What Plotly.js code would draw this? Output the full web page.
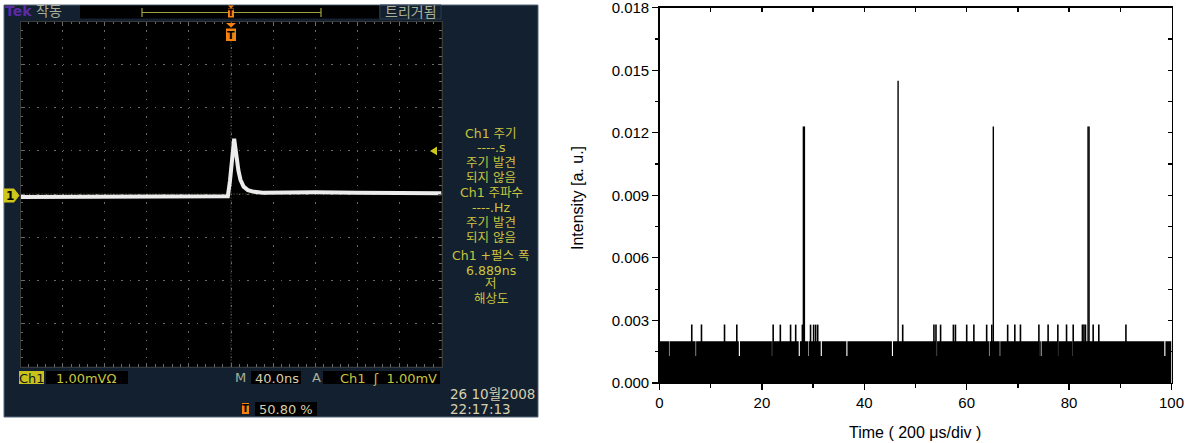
<!DOCTYPE html>
<html><head><meta charset="utf-8">
<script src="https://cdn.plot.ly/plotly-3.0.1.min.js"></script>
<style>html,body{margin:0;padding:0;background:#fff}#chart{width:1186px;height:443px}</style>
</head><body><div id="chart"></div>
<script>
// ---------- Right chart data (Time in divisions of 200 µs, Intensity a.u.) ----------
const xTickVals = [0, 20, 40, 60, 80, 100];
const yTickVals = [0, 0.003, 0.006, 0.009, 0.012, 0.015, 0.018];
const bandLevel = 0.002;            // dense background counts
const bandStart = 0, bandEnd = 100;
const dipClearX = [15.6, 27.3, 31.6, 36.6, 45.5, 54.1, 77.8, 98.7];
const dipFaintX = [1.9, 7.1, 22.0, 29.1, 64.4, 66.5, 74.3, 74.6, 80.7];
const dipLevel = 0.0013;
const medSpikeX = [6.3, 8.2, 12.7, 15.1, 22.2, 23.6, 25.6, 26.6, 27.9, 29.5, 30.1, 30.5, 30.9,
  47.5, 53.6, 54.0, 54.9, 57.4, 57.8, 60.0, 61.4, 63.9, 64.9, 68.0, 69.4, 70.5, 74.1, 75.9,
  77.8, 79.5, 80.8, 82.6, 82.9, 83.2, 84.7, 85.8, 91.1];
const medSpikeY = [0.0028, 0.0028, 0.0028, 0.0028, 0.0028, 0.0028, 0.0028, 0.0028, 0.0028, 0.0028, 0.0028, 0.0028, 0.0028,
  0.0028, 0.0028, 0.0028, 0.0028, 0.0028, 0.0028, 0.0028, 0.0028, 0.0028, 0.0028, 0.0028, 0.0028, 0.0028, 0.0028, 0.0028,
  0.0028, 0.0028, 0.0028, 0.0028, 0.0028, 0.0028, 0.0028, 0.0028, 0.0028];
const bigSpikeX = [28.1, 28.3, 46.6, 65.2, 83.7, 83.9];
const bigSpikeY = [0.0123, 0.0123, 0.0145, 0.0123, 0.0123, 0.0123];

// ---------- Oscilloscope trace (time ns, mV) ----------
const scopeT = [-200, -160, -120, -80, -40, -10, -3, -1, 0.5, 2, 3, 4, 5.5, 7, 9, 12, 16, 22, 30, 50, 80, 120, 160, 200];
const scopeV = [-0.07, -0.07, -0.06, -0.07, -0.07, -0.07, -0.05, 0.3, 0.75, 1.15, 1.28, 1.1, 0.8, 0.55, 0.33, 0.17, 0.09, 0.05, 0.03, 0.04, 0.04, 0.03, 0.02, 0.02];
const triggerLevel = 1.0;

// ---------- build traces ----------
const allDips = dipClearX.map(x => [x, 0.22]).concat(dipFaintX.map(x => [x, 0.1])).sort((a, b) => a[0] - b[0]);
const bandX = [bandStart], bandY = [bandLevel];
allDips.forEach(([x, w]) => {
  bandX.push(x - w / 2, x - w / 2, x + w / 2, x + w / 2);
  bandY.push(bandLevel, dipLevel, dipLevel, bandLevel);
});
bandX.push(bandEnd); bandY.push(bandLevel);

function stems(xs, ys) {
  const sx = [], sy = [];
  xs.forEach((x, i) => { sx.push(x, x, null); sy.push(0, ys[i], null); });
  return { sx, sy };
}
const med = stems(medSpikeX, medSpikeY);
const big = stems(bigSpikeX, bigSpikeY);

const traces = [
  { x: bandX, y: bandY, type: 'scatter', mode: 'lines', fill: 'tozeroy', fillcolor: '#000',
    line: { width: 0, color: '#000' }, xaxis: 'x', yaxis: 'y', hoverinfo: 'skip' },
  { x: med.sx, y: med.sy, type: 'scatter', mode: 'lines', line: { width: 1.6, color: '#000' },
    xaxis: 'x3', yaxis: 'y', hoverinfo: 'skip' },
  { x: big.sx, y: big.sy, type: 'scatter', mode: 'lines', line: { width: 1.4, color: '#000' },
    xaxis: 'x', yaxis: 'y3', hoverinfo: 'skip' },
  { x: scopeT, y: scopeV, type: 'scatter', mode: 'lines', line: { width: 4, color: '#ececec' },
    xaxis: 'x2', yaxis: 'y2', hoverinfo: 'skip' }
];

// ---------- layout helpers ----------
const W = 1186, H = 443;
const X = p => p / W, Y = p => 1 - p / H;
const scopeFont = 'DejaVu Sans, Noto Sans CJK KR, sans-serif';
const yellowTxt = '#c9c43e', beige = '#d6cfae', greyTxt = '#a9b096', orange = '#f5820f';

const annotations = [];
function txt(text, x, y, color, size, xanchor, extra) {
  annotations.push(Object.assign({ text, x: X(x), y: Y(y), xref: 'paper', yref: 'paper', showarrow: false,
    xanchor: xanchor || 'center', yanchor: 'middle', borderpad: 0,
    font: { family: scopeFont, size: size || 13, color } }, extra || {}));
}
const shapes = [];
function rect(x0, y0, x1, y1, fill, lineColor, layer) {
  shapes.push({ type: 'rect', xref: 'paper', yref: 'paper', x0: X(x0), x1: X(x1), y0: Y(y1), y1: Y(y0),
    fillcolor: fill, line: { width: lineColor ? 1 : 0, color: lineColor || fill }, layer: layer || 'above' });
}
function path(pts, fill, layer) {
  const d = pts.map((p, i) => (i ? 'L' : 'M') + X(p[0]) + ',' + Y(p[1])).join(' ') + ' Z';
  shapes.push({ type: 'path', xref: 'paper', yref: 'paper', path: d, fillcolor: fill, line: { width: 0 }, layer: layer || 'above' });
}
function seg(x0, y0, x1, y1, color, width, dash) {
  shapes.push({ type: 'line', xref: 'paper', yref: 'paper', x0: X(x0), x1: X(x1), y0: Y(y0), y1: Y(y1),
    line: { color, width: width || 1, dash: dash || 'solid' }, layer: 'above' });
}

// oscilloscope frame
rect(4, 5, 538, 417, '#13202f', '#566679', 'below');
rect(20.5, 21.5, 441.5, 366.5, '#000', null, 'below');
// top bar
rect(80, 5.5, 379, 18.5, '#000');
seg(142, 12.5, 321, 12.5, '#a3a23c', 1.2);
seg(142, 8, 142, 17, '#a3a23c', 1.2);
seg(321, 8, 321, 17, '#a3a23c', 1.2);
rect(380, 5, 441, 19, 'rgba(0,0,0,0)', '#2c3c4e');
path([[228, 5.5], [234, 5.5], [231, 8.5]], orange);
rect(228, 8.5, 234, 17.5, orange);
// trigger position marker
path([[226, 23], [236, 23], [231, 27.5]], orange);
rect(226, 28.5, 236, 41, orange);
// crosshair
shapes.push({ type: 'line', xref: 'x2', yref: 'y2 domain', x0: 0, x1: 0, y0: 0, y1: 1,
  line: { color: '#6d6d55', width: 1, dash: '1px,2px' }, layer: 'below' });
shapes.push({ type: 'line', xref: 'x2 domain', yref: 'y2', x0: 0, x1: 1, y0: 0, y1: 0,
  line: { color: '#6d6d55', width: 1, dash: '1px,2px' }, layer: 'below' });
// channel 1 marker
path([[4, 188.5], [14, 188.5], [19.5, 195.5], [14, 202.5], [4, 202.5]], '#cfc619');
// trigger level arrow (axis coords)
shapes.push({ type: 'path', xref: 'paper', yref: 'y2',
  path: 'M' + X(430) + ',' + triggerLevel + ' L' + X(437) + ',' + (triggerLevel + 0.1) + ' L' + X(437) + ',' + (triggerLevel - 0.1) + ' Z',
  fillcolor: '#cfc619', line: { width: 0 } });
// bottom readout boxes
rect(19, 371, 44, 384, '#c9c21a');
rect(46, 371, 128, 384, '#000');
rect(251, 371, 301, 384, '#000');
rect(323, 371, 440, 384, '#000');
rect(242, 403, 249, 414, orange);
rect(255, 402, 317, 416, '#000');

// texts
txt('<b>Tek</b>', 4, 11.5, '#5b2ba6', 14, 'left');
txt('작동', 35, 11, greyTxt, 14, 'left');
txt('트리거됨', 410.5, 12, greyTxt, 14, 'center');
txt('<b>T</b>', 231, 13, '#000', 8);
txt('<b>T</b>', 231, 35, '#000', 11);
txt('<b>1</b>', 10, 196, '#000', 12);
const sideLines = [['Ch1 주기', 134], ['----.s', 147.5], ['주기 발견', 162], ['되지 않음', 177], ['Ch1 주파수', 192.5],
  ['----.Hz', 207.5], ['주기 발견', 222], ['되지 않음', 237], ['Ch1 +펄스 폭', 256], ['6.889ns', 270], ['저', 283.5], ['해상도', 298.5]];
sideLines.forEach(([t, y]) => txt(t, 491, y, yellowTxt, 12.5));
txt('Ch1', 31.5, 378, '#101820', 13);
txt('1.00mVΩ', 55, 378, yellowTxt, 13, 'left');
txt('M', 240, 377.5, greyTxt, 13);
txt('40.0ns', 254, 378, beige, 13, 'left');
txt('A', 316, 377.5, greyTxt, 13);
txt('Ch1  ʃ  1.00mV', 438, 378, yellowTxt, 13, 'right');
txt('<b>T</b>', 245.5, 408.5, '#000', 10);
txt('50.80 %', 258, 409, beige, 13, 'left');
txt('26 10월2008', 536, 394, beige, 13.5, 'right');
txt('22:17:13', 449, 409, beige, 13.5, 'left');

// right chart axis titles
const arial = 'Liberation Sans, Arial, sans-serif';
annotations.push({ text: 'Intensity [a. u.]', x: X(577), y: Y(198), xref: 'paper', yref: 'paper', showarrow: false,
  textangle: -90, xanchor: 'center', yanchor: 'middle', font: { family: arial, size: 16, color: '#000' } });
annotations.push({ text: 'Time ( 200 μs/div )', x: X(915), y: Y(432), xref: 'paper', yref: 'paper', showarrow: false,
  xanchor: 'center', yanchor: 'middle', font: { family: arial, size: 16, color: '#000' } });

const gridGrey = '#6a6a6a';
const yMax = 0.01801;
const layout = {
  width: W, height: H, margin: { l: 0, r: 0, t: 0, b: 0 }, showlegend: false,
  paper_bgcolor: '#fff', plot_bgcolor: 'rgba(0,0,0,0)',
  xaxis: { domain: [X(659.5), X(1171.5)], range: [0, 100], anchor: 'y', tickvals: xTickVals,
    ticks: 'outside', ticklen: 6, tickwidth: 1.2, tickcolor: '#000', showline: true, mirror: true, linecolor: '#000', linewidth: 1.3,
    showgrid: false, zeroline: false, tickfont: { family: arial, size: 15, color: '#000' }, ticklabeloverflow: 'allow',
    minor: { dtick: 10, tick0: 10, ticks: 'outside', ticklen: 3.5, tickcolor: '#000', tickwidth: 1.2 } },
  yaxis: { domain: [Y(383), Y(7.5)], range: [0, yMax], anchor: 'x', tickvals: yTickVals, tickformat: '.3f',
    ticks: 'outside', ticklen: 6, tickwidth: 1.2, tickcolor: '#000', showline: true, linecolor: '#000', linewidth: 1.3,
    showgrid: false, zeroline: false, tickfont: { family: arial, size: 15, color: '#000' }, ticklabeloverflow: 'allow',
    minor: { dtick: 0.0015, ticks: 'outside', ticklen: 3.5, tickcolor: '#000', tickwidth: 1.2 } },
  xaxis3: { overlaying: 'x', side: 'top', anchor: 'y', range: [0, 100], dtick: 10, tick0: 0, ticks: 'inside', ticklen: 4,
    tickcolor: '#000', tickwidth: 1.2, showline: false, showticklabels: false, showgrid: false, zeroline: false },
  yaxis3: { overlaying: 'y', side: 'right', anchor: 'x', range: [0, yMax], dtick: 0.0015, tick0: 0, ticks: 'inside', ticklen: 4,
    tickcolor: '#000', tickwidth: 1.2, showline: true, linecolor: '#000', linewidth: 1.3, showticklabels: false, showgrid: false, zeroline: false },
  xaxis2: { domain: [X(20.5), X(441.5)], range: [-200, 200], anchor: 'y2', dtick: 40, tick0: 0,
    showgrid: true, gridcolor: gridGrey, griddash: '1.5px,7.1px', gridwidth: 1, zeroline: false,
    showticklabels: false, ticks: 'inside', ticklen: 4, tickcolor: gridGrey, showline: true, linecolor: '#3a3a3a', mirror: 'allticks',
    minor: { dtick: 8, ticks: 'inside', ticklen: 2.5, tickcolor: gridGrey, showgrid: false } },
  yaxis2: { domain: [Y(366.5), Y(21.5)], range: [-4, 4], anchor: 'x2', dtick: 1, tick0: 0,
    showgrid: true, gridcolor: gridGrey, griddash: '1.5px,6.9px', gridwidth: 1, zeroline: false,
    showticklabels: false, ticks: 'inside', ticklen: 4, tickcolor: gridGrey, showline: true, linecolor: '#3a3a3a', mirror: 'allticks',
    minor: { dtick: 0.2, ticks: 'inside', ticklen: 2.5, tickcolor: gridGrey, showgrid: false } },
  shapes, annotations
};

Plotly.newPlot('chart', traces, layout, { staticPlot: true, displayModeBar: false });
</script>
</body></html>
